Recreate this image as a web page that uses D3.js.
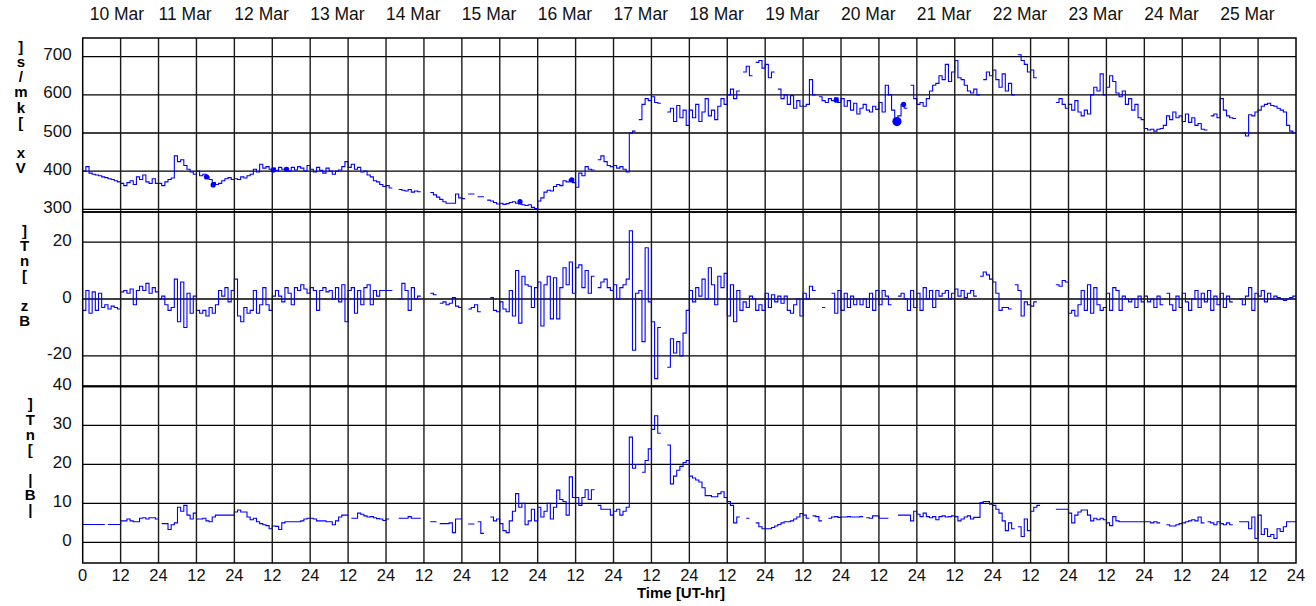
<!DOCTYPE html>
<html>
<head>
<meta charset="utf-8">
<script src="https://cdn.jsdelivr.net/npm/d3@7"></script>
<style>
  body { margin: 0; background: #fff; }
  svg { display: block; font-family: "Liberation Sans", Arial, sans-serif; }
</style>
</head>
<body>
<svg id="chart" width="1316" height="606"></svg>
<script>
// day labels along the top, one per 24 h
const days = ['10 Mar', '11 Mar', '12 Mar', '13 Mar', '14 Mar', '15 Mar', '16 Mar', '17 Mar',
    '18 Mar', '19 Mar', '20 Mar', '21 Mar', '22 Mar', '23 Mar', '24 Mar', '25 Mar'];

// hourly values, one row per day (null = data gap)
const vx = [
    400, 412, 395, 392, 390, 388, 385, 383, 380, 378, 375, 372, 368, 362, 370, 375, 365, 385, 378, 390, 372, 368, 380, 368,
    368, 362, 372, 378, 382, 440, 425, 430, 415, 405, 398, 392, 400, 388, 392, 385, 378, 370, 365, 368, 375, 380, 383, 378,
    380, 378, 385, 382, 388, 392, 405, 398, 418, 408, 412, 405, 408, 402, 410, 405, 408, 400, 410, 403, 412, 408, 400, 415,
    405, 398, 410, 402, 395, 408, 400, 392, 400, 403, 412, 425, 410, 418, 405, 410, 398, 400, 390, 385, 375, 372, 365, 360,
    362, 356, null, null, 352, 350, 348, 352, 345, 348, 346, null, null, null, 344, 338, 332, 326, 320, 316, 316, 316, 340, 330,
    328, null, 340, 340, null, 333, 333, null, 324, 322, 318, 314, 316, 313, 315, 318, 320, 316, 314, 312, 310, 312, 305, 302,
    322, 330, 345, 350, 348, 360, 365, 362, 375, 372, 378, 370, 358, 395, 388, 412, 405, 403, null, 430, 440, 425, 415, 412,
    415, 408, 412, 405, 398, 500, 505, null, 535, 575, 590, 585, 595, 580, 578, null, null, 555, 565, 530, 572, 540, 560, 520,
    560, 540, 575, 530, 555, 590, 545, 560, 535, 570, 590, 575, 600, 615, 590, 610, null, 660, 675, 650, null, 685, 690, 670,
    680, 645, 660, null, 615, 590, 600, 575, 598, 565, 585, 570, 570, 575, 640, 600, null, 595, 585, 580, 590, 585, 592, 580,
    590, 570, 585, 560, 578, 550, 565, 575, 560, 555, 570, 562, 580, 555, 625, 600, 560, 528, 545, 575, 565, null, 625, 590,
    575, 580, 570, 590, 610, 625, 630, 650, 640, 680, 635, 660, 690, 645, 640, 625, 610, 605, 615, 600, null, 640, 660, 650,
    665, 640, 620, 655, 610, 630, 600, null, 705, 690, 680, 660, 665, 645, null, null, null, null, null, null, 580, 590, 575, 565,
    575, 560, 585, 555, 545, 560, 550, 600, 620, 610, 655, 600, 620, 650, 635, 605, 595, 610, 575, 590, 560, 575, 540, 535,
    512, 508, 510, 505, 510, 512, 520, 545, 535, 555, 540, 545, 530, 550, 528, 540, 520, 525, 510, 508, null, 545, 550, 540,
    590, 560, 545, 540, 538, null, null, 500, 492, 548, 545, 555, 560, 570, 575, 578, 572, 570, 565, 560, 555, 520, 505, 500
];

const bz = [
    -4, 3, -5, 2.5, -4, 2, -3, -2, -3.5, -2.5, -3, -3.5, 2.5, 3, 2, 3.5, -2, 3, 4.5, 3, 5.5, 2, 4, 2.5,
    0, 1, -2, -4, -3, 7, -8, 6, -10, 2, -5, 1, -4, -5, -4, -6, -3, -5, -2, 3, 1, 4, -1, 3,
    7, -6, -8, -3, -5, -4, 3, -5, -2, 4, -2, -4, 1, 3, 1, -1, 4, 2, -2, 4, 3, 5, 3.5, 2,
    4, 3, -4, 3, 4, 2.5, 3, 0, 4, -1, 5, -8, 3, 4, -5, 3, -2, 4, 5, -2, 3, 1, 3, 3,
    3, 3, null, null, 0, 5.5, 3, -4, 4, 0, 1, null, null, null, 2, 1.5, null, -1.5, -1, -2, -1.5, 0.5, -2.5, -3,
    null, null, -3.5, -3, -2, -4.5, null, null, null, 0.5, -4, -4.5, -1, -3.5, -4.5, 3, -6, 10, -8.5, 8, 5, 4.5, -3, 4,
    6, -9.5, 5, 8, -7, 7.5, -7, 4, 11, 5, 13, 2, 11, 12, 4, 10, 2, 8, null, 4, 6, 7, 4, 3,
    5, 0, 4, 5, 7, 24, -18, 2, 3, -15, 18, -1, -8, -28, -10, null, null, -24, -14, -19, -15, -20, -12, -4,
    3, -1, 4, 1, 7, 0, 11, 5, -2, 8, 4, 9, -6, 5, -8, 3, -4, -1, -3, 1, 0, -4, -2, -4,
    2, -3, 1.5, -1, 1, -1.5, 1, -4, -5, -2, 0, -6, 2, 0, 4.5, 3, null, null, -3, null, null, 2, -5, 3,
    -4, 2, -3, 1, -2, 0, -2, 0, -3, 2, -4, 3, -2, 3, 1, -2, null, null, 1, 2, 0, -4, 3, -3,
    2, -4, 4, 0, 3, -3, 3, 1, 2, 3, 0, 2, 3.5, 1, 3, 0.5, 2, 3, 1, null, 8, 9.5, 8.5, 7,
    6, 2, -4, -3, -3, -3.5, null, 5, 3, -6, -1, -2, -2.5, -1, null, null, null, null, null, null, 5, 4.5, 6.5, 6,
    -5, -4, -6, -2, 3, -4, 5, -5, 4, -2, -4, -3, 2, -4, 4, 3, -4, 1, 0, -1, 0, -3, 1, -1,
    1, -1, 0, -3, 1, -2, null, 2, -2, -4, 1, -3, 2, -1, -4, 0, 3, -3, 2, -1, 3, -4, 1, -2,
    2, -3, 1, -1, null, null, 0, -2, 1, 4, -4, 2, 1, 3, -1, 2, 0, 1, 0.5, 0, -0.5, 0, 0.5, 1
];

const bt = [
    4.6, 4.6, 4.6, 4.6, 4.6, 4.6, 4.6, null, 4.6, 4.6, 4.6, 4.6, 5.5, 5.5, 6, 5.5, 5.3, 5.3, 6.2, 6.3, 6.0, 6.3, 6.3, 6.0,
    null, 4.8, 4.8, 3.3, 4.5, 5, 9, 8, 9.5, 7, 6, 7.5, 6, 6, 6.2, 5.5, 5.3, 6.5, 7, 7, 7, 7, 7, 7,
    7.8, 8.3, 7.8, 7.8, 6.5, 5.8, 6.2, 5.3, 4.8, 4.5, 4.3, 3.5, 4.2, 4.1, 3.3, 5, 5.3, 5.3, 5.3, 5.3, 5.3, 5.5, 6, 6.2,
    6.2, 6, 5.5, 5.5, 5.5, 5.3, 5.3, 4.5, 5.5, 6.5, 7, 7, null, 6.2, 6.2, 7.5, 7.2, 6.8, 6.5, 6.6, 6.3, 6.1, 6, 5.6,
    6, null, null, null, 6.2, 6.2, 6.2, 6.6, 6.2, 6.2, 6.2, null, null, null, 5.3, 5.3, null, 4.8, 4.8, 4.8, 5, 2.5, 6, 6,
    null, null, 4.7, 4.7, null, 5.3, 2.3, null, null, 6.5, 5.5, 6, 4.8, 3, 2.5, 5.5, 8, 12.5, 9, 10, 4.5, 5.5, 8.5, 5.5,
    9, 6.5, 8, 10, 6, 9, 13.4, 11, 10.5, 7, 16.8, 11.5, 11.5, 9.5, 11.5, 13.5, 11, 13.5, null, 9.5, 8.5, 8.5, 8.5, 7,
    8, 8.5, 7, 8, 9, 27, 19, 20, null, 18, 21, 24, 29, 32.5, 28, null, null, 25, 15, 17, 18.5, 19.5, 20.5, 21,
    17, 16.5, 16, 15.5, 14, 12, 12, 11.7, 11.7, 12.5, 13, 11.5, 10.5, 9.5, 5, 6.5, null, null, 6.2, null, null, 5, 4, 3.5,
    3.5, 3.5, 3.8, 4.2, 4.6, 5, 5.3, 5.3, 5.5, 6, 6.5, 7.4, 7, 6.2, null, 6.8, 6.6, 5.5, null, null, 6.2, 6.5, 6.6, 6.4,
    6.5, 6.5, 6.6, 6.5, 6.5, 6.5, 6.6, null, 6.3, 6.2, 6.8, 6.8, 6.2, 6.2, 6.2, null, null, null, 7, 7, 7, 7, 5.5, 8,
    7.2, 6.6, 7.5, 6.6, 6.3, 6.6, 5.8, 6.6, 6.8, 6.5, 6.6, 6.8, 6.6, 5.5, 6, 6.5, 6.8, 6, 6.4, 6.4, 10.2, 10.5, 10.5, 9.8,
    9.5, 8.5, 7.5, 5.5, 3, 5, 3.5, null, 4, 1.5, 6, 3, 8, 9, 9.5, null, null, null, null, null, 8.5, 8.5, 8.5, 8.5,
    7.5, 5, 7, 7.8, 8.3, 8.3, 7, 5.5, 6.2, 5.8, 6.2, 5.8, 5, 4.3, 6.6, 5.5, 5.3, 5.3, 5.3, 5.3, 5.3, 5.3, 5.3, 5.3,
    5.3, 5.3, 5, 5.3, 5, null, null, 4.5, 4.2, 4.2, 4.5, 4.8, 5, 5.3, 5.5, 5.8, 5.5, 6.5, 5, null, 5.3, 5, 4.5, 5.3,
    4.8, 4.5, 5, 4.5, null, null, 5.3, 5.3, 5.3, 3.5, 6.5, 1, 7, 2, 3.5, 1.5, 2, 1, 3.5, 2.8, 4, 5.3, 5.3, 5.3
];

// clusters of points drawn as dots on the Vx trace: [hour, km/s]
const vxDots = [[39.2, 385], [41.3, 364], [60.3, 403], [64.5, 405], [138.4, 320],
    [154.8, 377], [238.5, 586], [259.8, 575]];
const vxBlob = [[257.7, 530]];

const svg = d3.select('#chart');
const left = 82.7, right = 1296;
const hours = days.length * 24;

const x = d3.scaleLinear().domain([0, hours]).range([left, right]);

const panels = [
    { data: vx, label: 'Vx [km/s]', ticks: [300, 400, 500, 600, 700],
        y: d3.scaleLinear().domain([293, 749]).range([212, 38]), shift: -12.5 },
    { data: bz, label: 'Bz [nT]', ticks: [-20, 0, 20],
        y: d3.scaleLinear().domain([-30.6, 30.6]).range([386, 212]), shift: -18 },
    { data: bt, label: '|B| [nT]', ticks: [0, 10, 20, 30, 40],
        y: d3.scaleLinear().domain([-5.3, 40]).range([563, 386.5]), shift: -12.5 },
];

// turn an hourly array into step points, closing each run at the next hour
function steps(arr) {
    const pts = [];
    arr.forEach((v, i) => {
        if (v == null) return;
        pts.push([i, v]);
        if (i === arr.length - 1 || arr[i + 1] == null) {
            pts.push([i + 1, v]);
            pts.push(null);
        }
    });
    return pts;
}

const plotTop = panels[0].y.range()[1];
const plotBottom = panels[2].y.range()[0];

panels.forEach((p, k) => {
    const [y0, y1] = p.y.range();
    const g = svg.append('g');

    // horizontal grid
    g.selectAll('line.h')
        .data(p.ticks)
        .join('line')
        .attr('x1', left).attr('x2', right)
        .attr('y1', (d) => p.y(d)).attr('y2', (d) => p.y(d))
        .attr('stroke', '#000').attr('stroke-width', 1.3);

    // y tick labels
    const tl = g.append('g')
        .attr('font-size', 17).attr('text-anchor', 'end').attr('fill', '#111');
    tl.selectAll('text')
        .data(p.ticks)
        .join('text')
        .attr('x', left - 11)
        .attr('y', (d) => p.y(d) + 3.5)
        .text((d) => d);

    // stacked y label, characters in reverse order
    const bb = tl.node().getBBox();
    const chars = Array.from(p.label).reverse();
    const cy = (y0 + y1) / 2 + p.shift;
    const step = 15.1;
    svg.append('g')
        .attr('font-size', 15).attr('font-weight', 'bold').attr('text-anchor', 'middle')
        .selectAll('text')
        .data(chars)
        .join('text')
        .attr('x', bb.x - 22.5)
        .attr('y', (d, i) => cy + (i - (chars.length - 1) / 2) * step)
        .text((d) => d);

    // data trace
    const clipId = 'clip' + k;
    svg.append('clipPath').attr('id', clipId)
        .append('rect')
        .attr('x', left).attr('y', y1).attr('width', right - left).attr('height', y0 - y1);

    const line = d3.line()
        .defined((d) => d != null)
        .x((d) => x(d[0]))
        .y((d) => p.y(d[1]))
        .curve(d3.curveStepAfter);

    svg.append('path')
        .attr('clip-path', `url(#${clipId})`)
        .attr('d', line(steps(p.data)))
        .attr('fill', 'none')
        .attr('stroke', '#0000ff')
        .attr('stroke-width', 1.1);
});

// vertical grid every 12 h
svg.append('g')
    .selectAll('line')
    .data(d3.range(12, hours, 12))
    .join('line')
    .attr('x1', (d) => x(d)).attr('x2', (d) => x(d))
    .attr('y1', plotTop).attr('y2', plotBottom)
    .attr('stroke', '#1a1a1a').attr('stroke-width', 1.4);

// dots on the Vx trace
const vy = panels[0].y;
svg.append('g').attr('fill', '#0000ff')
    .selectAll('circle')
    .data(vxDots)
    .join('circle')
    .attr('cx', (d) => x(d[0])).attr('cy', (d) => vy(d[1])).attr('r', 2.6);
svg.append('g').attr('fill', '#0000ff')
    .selectAll('circle')
    .data(vxBlob)
    .join('circle')
    .attr('cx', (d) => x(d[0])).attr('cy', (d) => vy(d[1])).attr('r', 4.6);

// panel frames
panels.forEach((p) => {
    const [y0, y1] = p.y.range();
    svg.append('rect')
        .attr('x', left).attr('y', y1)
        .attr('width', right - left).attr('height', y0 - y1)
        .attr('fill', 'none').attr('stroke', '#000').attr('stroke-width', 1.5);
});

// bottom hour labels
svg.append('g')
    .attr('font-size', 16.5).attr('text-anchor', 'middle').attr('fill', '#111')
    .selectAll('text')
    .data(d3.range(0, hours + 1, 12))
    .join('text')
    .attr('x', (d) => x(d))
    .attr('y', 580.5)
    .text((d) => (d === 0 ? '0' : d % 24 === 0 ? '24' : '12'));

svg.append('text')
    .attr('x', 681).attr('y', 598)
    .attr('text-anchor', 'middle')
    .attr('font-size', 15).attr('font-weight', 'bold')
    .text('Time [UT-hr]');

// day labels at top
svg.append('g')
    .attr('font-size', 17.5).attr('fill', '#111')
    .selectAll('text')
    .data(days)
    .join('text')
    .attr('x', (d, i) => Math.max(x(i * 24), left + 7))
    .attr('y', 20)
    .text((d) => d);
</script>
</body>
</html>
